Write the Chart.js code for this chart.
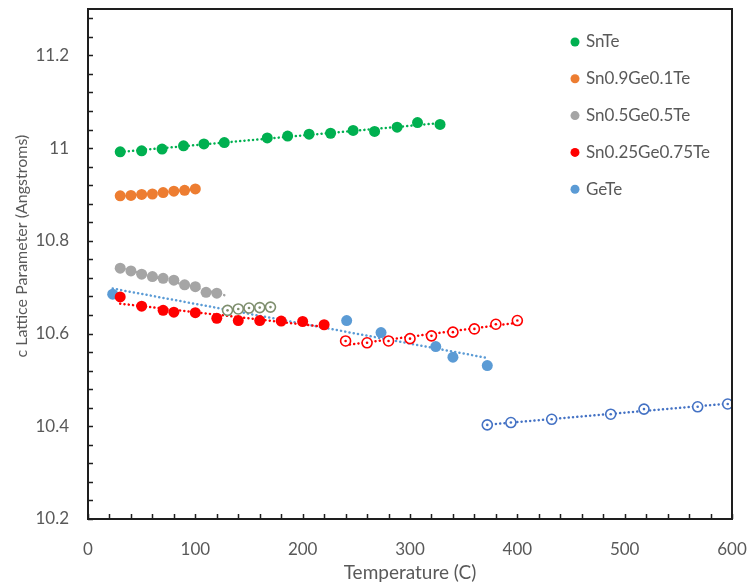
<!DOCTYPE html>
<html>
<head>
<meta charset="utf-8">
<script src="https://cdn.jsdelivr.net/npm/chart.js@4/dist/chart.umd.min.js"></script>
<style>
  html, body { margin: 0; padding: 0; background: #fff; }
  #wrap { width: 748px; height: 588px; }
</style>
</head>
<body>
<div id="wrap"><canvas id="chart" width="748" height="588"></canvas></div>
<script>
// Temperature (C) and c lattice parameter (Angstroms) per composition
const snteT = [30, 50, 69, 89, 108, 127, 167, 186, 206, 226, 247, 267, 288, 307, 328];
const snteC = [10.992, 10.994, 10.998, 11.005, 11.009, 11.012, 11.022, 11.026, 11.030, 11.032, 11.038, 11.036, 11.045, 11.055, 11.051];

const sn09T = [30, 40, 50, 60, 70, 80, 90, 100];
const sn09C = [10.897, 10.898, 10.900, 10.901, 10.904, 10.907, 10.909, 10.912];

const sn05T = [30, 40, 50, 60, 70, 80, 90, 100, 110, 120];
const sn05C = [10.741, 10.735, 10.728, 10.723, 10.719, 10.715, 10.705, 10.701, 10.689, 10.687];
const sn05HotT = [130, 140, 150, 160, 170];
const sn05HotC = [10.650, 10.653, 10.655, 10.656, 10.657];

const sn025T = [30, 50, 70, 80, 100, 120, 140, 160, 180, 200, 220];
const sn025C = [10.679, 10.659, 10.650, 10.646, 10.645, 10.633, 10.628, 10.628, 10.627, 10.626, 10.619];
const sn025HotT = [240, 260, 280, 300, 320, 340, 360, 380, 400];
const sn025HotC = [10.584, 10.580, 10.584, 10.589, 10.595, 10.603, 10.610, 10.620, 10.628];

const geteT = [23, 241, 273, 324, 340, 372];
const geteC = [10.685, 10.628, 10.602, 10.572, 10.549, 10.531];
const geteHotT = [372, 394, 432, 487, 518, 568, 596];
const geteHotC = [10.403, 10.408, 10.415, 10.426, 10.437, 10.442, 10.448];

const legendNames = ["SnTe", "Sn0.9Ge0.1Te", "Sn0.5Ge0.5Te", "Sn0.25Ge0.75Te", "GeTe"];
const legendColors = ["#00B050", "#ED7D31", "#A5A5A5", "#FF0000", "#5B9BD5"];

const xTicks = { min: 0, max: 600, major: 100, minor: 20 };
const yTicks = { min: 10.2, max: 11.3, major: 0.2, minor: 0.04 };

const FONT = "Lato, 'Open Sans', sans-serif";
const TEXT = "#595959";

function pts(xs, ys) {
  return xs.map((x, i) => ({ x: x, y: ys[i] }));
}

// least-squares trendline, returned as its two end points
function trend(xs, ys, x0 = xs[0], x1 = xs[xs.length - 1]) {
  const n = xs.length;
  const mx = xs.reduce((a, b) => a + b, 0) / n;
  const my = ys.reduce((a, b) => a + b, 0) / n;
  let sxy = 0, sxx = 0;
  for (let i = 0; i < n; i++) {
    sxy += (xs[i] - mx) * (ys[i] - my);
    sxx += (xs[i] - mx) * (xs[i] - mx);
  }
  const m = sxy / sxx;
  const b = my - m * mx;
  return [{ x: x0, y: m * x0 + b }, { x: x1, y: m * x1 + b }];
}

function trendSet(data, color) {
  return {
    data: data,
    showLine: true,
    borderColor: color,
    borderWidth: 2.5,
    borderDash: [0.1, 4.2],
    borderCapStyle: "round",
    pointRadius: 0,
    order: 5,
  };
}

function dots(data, color, order = 2) {
  return {
    data: data,
    showLine: false,
    pointRadius: 5.5,
    pointBorderWidth: 0,
    pointBackgroundColor: color,
    order: order,
  };
}

function rings(data, color) {
  return {
    data: data,
    showLine: false,
    pointRadius: 5,
    pointBorderWidth: 1.6,
    pointBorderColor: color,
    pointBackgroundColor: "#ffffff",
    order: 2,
  };
}

function centres(data, color) {
  return {
    data: data,
    showLine: false,
    pointRadius: 1.3,
    pointBorderWidth: 0,
    pointBackgroundColor: color,
    order: 1,
  };
}

const datasets = [
  trendSet(trend(snteT, snteC), "#00B050"),
  trendSet(trend(sn09T, sn09C), "#ED7D31"),
  trendSet(trend(sn05T, sn05C, 30, 130), "#A5A5A5"),
  trendSet(trend(sn025T, sn025C), "#FF0000"),
  trendSet(trend(sn025HotT, sn025HotC), "#FF0000"),
  trendSet(trend(geteT, geteC), "#5B9BD5"),
  trendSet(trend(geteHotT, geteHotC), "#4472C4"),

  dots(pts(snteT, snteC), "#00B050"),
  dots(pts(sn09T, sn09C), "#ED7D31"),
  dots(pts(sn05T, sn05C), "#A5A5A5"),
  dots(pts(sn025T, sn025C), "#FF0000"),
  dots(pts(geteT, geteC), "#5B9BD5", 3),

  rings(pts(sn05HotT, sn05HotC), "#7F8F6E"),
  rings(pts(sn025HotT, sn025HotC), "#FF0000"),
  rings(pts(geteHotT, geteHotC), "#4472C4"),
  centres(pts(sn05HotT, sn05HotC), "#7F8F6E"),
  centres(pts(sn025HotT, sn025HotC), "#FF0000"),
  centres(pts(geteHotT, geteHotC), "#4472C4"),
];

// plot frame plus inward major/minor tick marks
const framePlugin = {
  id: "frame",
  afterDraw(chart) {
    const { ctx, chartArea: a, scales } = chart;
    ctx.save();
    ctx.strokeStyle = "#1e1e1e";
    ctx.lineWidth = 1.5;
    ctx.beginPath();
    const steps = Math.round((xTicks.max - xTicks.min) / xTicks.minor);
    for (let i = 0; i <= steps; i++) {
      const px = Math.round(scales.x.getPixelForValue(xTicks.min + i * xTicks.minor)) + 0.5;
      ctx.moveTo(px, a.bottom);
      ctx.lineTo(px, a.bottom - 5);
    }
    const ySteps = Math.floor((yTicks.max - yTicks.min) / yTicks.minor + 1e-6);
    for (let i = 0; i <= ySteps; i++) {
      const py = Math.round(scales.y.getPixelForValue(yTicks.min + i * yTicks.minor)) + 0.5;
      ctx.moveTo(a.left, py);
      ctx.lineTo(a.left + 5, py);
    }
    ctx.stroke();
    ctx.lineWidth = 2;
    ctx.strokeRect(a.left, a.top, a.right - a.left, a.bottom - a.top);
    ctx.restore();
  },
};

// legend column inside the plot, upper right
const legendPlugin = {
  id: "insideLegend",
  afterDraw(chart) {
    const { ctx, chartArea: a } = chart;
    ctx.save();
    ctx.font = "17px " + FONT;
    ctx.textBaseline = "middle";
    ctx.fillStyle = TEXT;
    legendNames.forEach((name, i) => {
      const y = a.top + 33 + i * 36.8;
      const x = a.right - 157;
      ctx.beginPath();
      ctx.arc(x, y, 4.5, 0, Math.PI * 2);
      ctx.fillStyle = legendColors[i];
      ctx.fill();
      ctx.fillStyle = TEXT;
      ctx.fillText(name, x + 11, y);
    });
    ctx.restore();
  },
};

// vertical axis title, sitting a little above the middle of the plot
const yTitlePlugin = {
  id: "yTitle",
  afterDraw(chart) {
    const { ctx, chartArea: a } = chart;
    ctx.save();
    ctx.translate(22, a.top + (a.bottom - a.top) * 0.465);
    ctx.rotate(-Math.PI / 2);
    ctx.font = "16px " + FONT;
    ctx.fillStyle = TEXT;
    ctx.textAlign = "center";
    ctx.textBaseline = "middle";
    ctx.fillText("c Lattice Parameter (Angstroms)", 0, 0);
    ctx.restore();
  },
};

function noOverhang(scale) {
  scale.paddingLeft = 0;
  scale.paddingRight = 0;
  scale.paddingTop = 0;
  scale.paddingBottom = 0;
}

new Chart(document.getElementById("chart"), {
  type: "scatter",
  data: { datasets: datasets },
  plugins: [framePlugin, legendPlugin, yTitlePlugin],
  options: {
    responsive: false,
    devicePixelRatio: 1,
    animation: false,
    layout: { padding: { top: 9, right: 16, left: 0, bottom: 0 } },
    plugins: { legend: { display: false }, tooltip: { enabled: false } },
    scales: {
      x: {
        type: "linear",
        min: xTicks.min,
        max: xTicks.max,
        grid: { display: false, drawTicks: false },
        border: { display: false },
        ticks: {
          stepSize: xTicks.major,
          color: TEXT,
          font: { family: FONT, size: 17 },
          padding: 20,
          maxRotation: 0,
        },
        title: {
          display: true,
          text: "Temperature (C)",
          color: TEXT,
          font: { family: FONT, size: 19 },
          padding: 4,
        },
        afterFit(scale) {
          scale.height = 69;
          noOverhang(scale);
        },
      },
      y: {
        type: "linear",
        min: yTicks.min,
        max: yTicks.max,
        grid: { display: false, drawTicks: false },
        border: { display: false },
        afterBuildTicks(scale) {
          scale.ticks = scale.ticks.filter((t) => {
            const r = ((t.value - yTicks.min) / yTicks.major) % 1;
            return r < 1e-6 || 1 - r < 1e-6;
          });
        },
        ticks: {
          stepSize: yTicks.major,
          color: TEXT,
          font: { family: FONT, size: 17 },
          padding: 19,
          callback: (v) => parseFloat(v.toFixed(1)).toString(),
        },
        afterFit(scale) {
          scale.width = 88;
          noOverhang(scale);
        },
      },
    },
  },
});
</script>
</body>
</html>
